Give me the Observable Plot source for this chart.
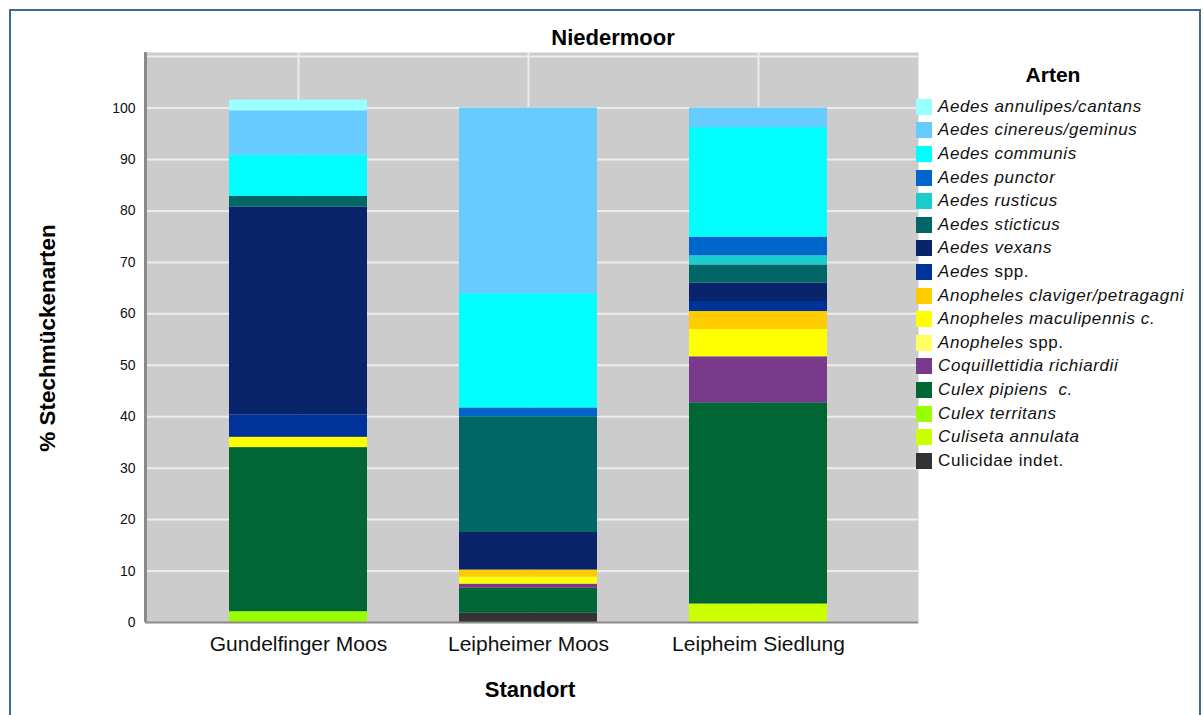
<!DOCTYPE html>
<html><head><meta charset="utf-8">
<script src="https://cdn.jsdelivr.net/npm/d3@7"></script>
<script src="https://cdn.jsdelivr.net/npm/@observablehq/plot@0.6"></script>
<style>
body{margin:0;background:#fff;font-family:"Liberation Sans",Arial,sans-serif;}
#wrap{position:relative;width:1203px;height:715px;overflow:hidden;background:#fff;}
#border{position:absolute;left:9px;top:9px;width:1192px;height:730px;border:2px solid #3b6b8b;box-sizing:border-box;}
#chart{position:absolute;left:0;top:0;}
.t{position:absolute;font-weight:bold;color:#000;white-space:nowrap;transform:translate(-50%,-50%);}
#legend{position:absolute;left:916px;top:95px;}
.row{display:flex;align-items:center;height:23.6px;}
.sw{width:16px;height:16px;margin-right:6px;flex:none;}
.lab{font-size:17px;letter-spacing:0.6px;color:#111;white-space:nowrap;}
.lab i{font-style:italic;}
</style></head>
<body>
<div id="wrap">
  <div id="border"></div>
  <div id="chart"></div>
  <div class="t" style="left:613px;top:38px;font-size:22px;">Niedermoor</div>
  <div class="t" style="left:530px;top:690px;font-size:22px;">Standort</div>
  <div class="t" style="left:48px;top:338px;font-size:22.5px;transform:translate(-50%,-50%) rotate(-90deg);">% Stechmückenarten</div>
  <div class="t" style="left:1053px;top:75px;font-size:21px;">Arten</div>
  <div id="legend"></div>
</div>
<script>
// Sites (x categories)
const sites = ["Gundelfinger Moos", "Leipheimer Moos", "Leipheim Siedlung"];

// Species in legend order (top of legend -> bottom)
const species = [
  "Aedes annulipes/cantans",
  "Aedes cinereus/geminus",
  "Aedes communis",
  "Aedes punctor",
  "Aedes rusticus",
  "Aedes sticticus",
  "Aedes vexans",
  "Aedes spp.",
  "Anopheles claviger/petragagni",
  "Anopheles maculipennis c.",
  "Anopheles spp.",
  "Coquillettidia richiardii",
  "Culex pipiens  c.",
  "Culex territans",
  "Culiseta annulata",
  "Culicidae indet."
];

const colors = [
  "#99ffff", "#66ccff", "#00ffff", "#0066cc", "#1acccc", "#006666",
  "#0a246c", "#003399", "#ffcc00", "#ffff00", "#ffff66", "#7a3a8c",
  "#006633", "#99ff00", "#ccff00", "#333333"
];

// Percent values per site, same order as species
const gundelfinger = [2.1, 8.6, 8.0, 0, 0, 2.1, 40.4, 4.35, 0, 2.0, 0, 0, 31.9, 2.1, 0, 0];
const leipheimer   = [0, 36.1, 22.2, 1.7, 0, 22.5, 7.3, 0, 1.35, 1.4, 0, 0.8, 4.85, 0, 0, 1.8];
const siedlung     = [0, 3.8, 21.3, 3.6, 1.8, 3.55, 3.55, 1.95, 3.5, 5.3, 0, 8.95, 39.1, 0, 3.6, 0];

const yTicks = [0, 10, 20, 30, 40, 50, 60, 70, 80, 90, 100];
const yGrid = [10, 20, 30, 40, 50, 60, 70, 80, 90, 100, 110];
const yMax = 110.8;

// Build tidy rows, stacked bottom-to-top in reverse legend order
const seriesBySite = [gundelfinger, leipheimer, siedlung];
const rows = [];
const stackOrder = species.slice().reverse();
for (const sp of stackOrder) {
  const k = species.indexOf(sp);
  sites.forEach((s, i) => {
    if (seriesBySite[i][k] > 0) rows.push({site: s, species: sp, value: seriesBySite[i][k]});
  });
}

const W = 930, ML = 145, MR = 12;
const innerW = W - ML - MR;

const plot = Plot.plot({
  width: W,
  height: 715,
  marginLeft: ML,
  marginRight: MR,
  marginTop: 52,
  marginBottom: 93,
  style: {fontFamily: "'Liberation Sans', Arial, sans-serif", background: "transparent", color: "#111", overflow: "visible"},
  x: {domain: sites, paddingInner: 0.4, paddingOuter: 0.375, align: 0.48, label: null},
  y: {domain: [0, yMax], label: null},
  color: {domain: species, range: colors},
  marks: [
    Plot.frame({fill: "#cccccc", stroke: null}),
    Plot.ruleY(yGrid, {stroke: "#ececec", strokeWidth: 2}),
    Plot.ruleX(sites, {stroke: "#ececec", strokeWidth: 2}),
    Plot.barY(rows, {x: "site", y: "value", fill: "species", order: stackOrder}),
    Plot.ruleY([0], {stroke: "#8a8a8a", strokeWidth: 2}),
    // left axis line: a thin strip at the left edge of the frame
    Plot.rect([0], {y1: 0, y2: yMax, fill: "#8a8a8a", insetLeft: -1, insetRight: innerW - 2}),
    Plot.axisY({ticks: yTicks, tickSize: 0, tickPadding: 10, fontSize: 14, label: null}),
    Plot.axisX({tickSize: 0, tickPadding: 14, fontSize: 21, label: null})
  ]
});
document.getElementById("chart").appendChild(plot);

// Legend
const leg = document.getElementById("legend");
species.forEach((sp, i) => {
  const row = document.createElement("div");
  row.className = "row";
  const sw = document.createElement("div");
  sw.className = "sw";
  sw.style.background = colors[i];
  const lab = document.createElement("div");
  lab.className = "lab";
  const m = sp.match(/^(.*?)( spp\.)$/);
  if (sp === "Culicidae indet.") {
    lab.textContent = sp;
  } else if (m) {
    const it = document.createElement("i"); it.textContent = m[1];
    lab.appendChild(it);
    lab.appendChild(document.createTextNode(m[2].replace(" ", "\u00a0")));
  } else {
    const it = document.createElement("i"); it.textContent = sp.replace(/  /g, "\u00a0 ");
    lab.appendChild(it);
  }
  row.appendChild(sw); row.appendChild(lab);
  leg.appendChild(row);
});
</script>
</body></html>
